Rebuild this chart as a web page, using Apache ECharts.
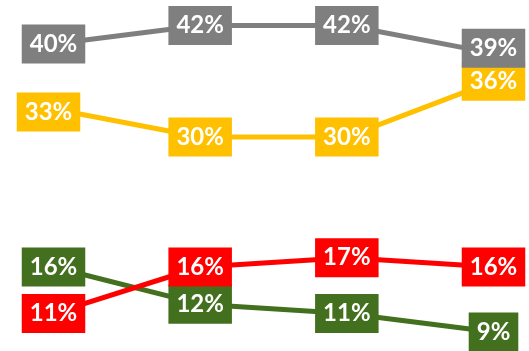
<!DOCTYPE html>
<html>
<head>
<meta charset="utf-8">
<script src="https://cdn.jsdelivr.net/npm/echarts@6/dist/echarts.min.js"></script>
<style>
  html, body { margin: 0; padding: 0; background: #fff; }
  #chart { width: 529px; height: 351px; }
</style>
</head>
<body>
<div id="chart"></div>
<script>
// Four periods, one share (%) per line
const periods = ['P1', 'P2', 'P3', 'P4'];
const greySeries = [40, 42, 42, 39];
const amberSeries = [33, 30, 30, 36];
const greenSeries = [16, 12, 11, 9];
const redSeries = [11, 16, 17, 16];

// Small label nudges where boxes would otherwise collide
const labelNudge = {
  grey: { 3: [0, -5] },
  amber: { 0: [-5, 3] }
};

function buildData(key, values) {
  return values.map((v, i) => {
    const off = (labelNudge[key] || {})[i];
    return off ? { value: v, label: { offset: off } } : v;
  });
}

function lineSeries(key, values, color) {
  return {
    type: 'line',
    name: key,
    data: buildData(key, values),
    symbol: 'circle',
    symbolSize: 4,
    itemStyle: { color: color },
    lineStyle: { color: color, width: 5 },
    label: {
      show: true,
      position: 'inside',
      formatter: '{c}%',
      color: '#fff',
      fontFamily: 'Lato',
      fontWeight: 'bold',
      fontSize: 24,
      lineHeight: 24,
      backgroundColor: color,
      padding: [8, 8, 7, 8]
    }
  };
}

const chart = echarts.init(document.getElementById('chart'));
chart.setOption({
  animation: false,
  grid: { left: 53.5, right: 35.5, top: -2.4, bottom: 0.4, outerBoundsMode: 'none' },
  xAxis: {
    type: 'category',
    data: periods,
    boundaryGap: false,
    show: false
  },
  yAxis: {
    type: 'value',
    min: 7,
    max: 45,
    show: false
  },
  series: [
    lineSeries('amber', amberSeries, '#FFC000'),
    lineSeries('grey', greySeries, '#7F7F7F'),
    lineSeries('green', greenSeries, '#43701F'),
    lineSeries('red', redSeries, '#FF0000')
  ]
});
</script>
</body>
</html>
